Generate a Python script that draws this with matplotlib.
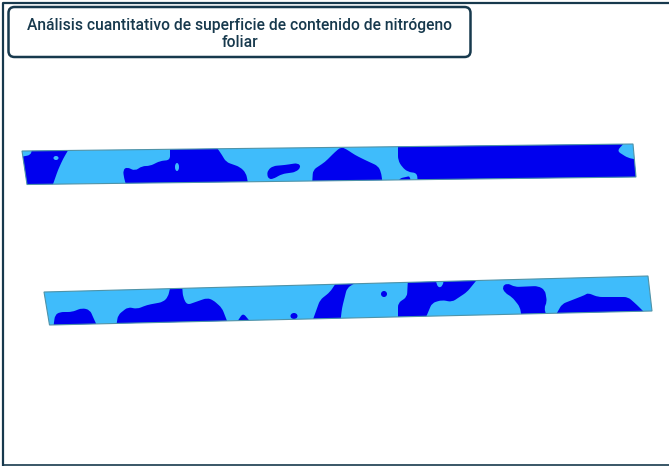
import matplotlib
matplotlib.use("Agg")
import matplotlib.pyplot as plt
from matplotlib.patches import Polygon, Ellipse, FancyBboxPatch, PathPatch
from matplotlib.path import Path
import numpy as np

title = "Análisis cuantitativo de superficie de contenido de nitrógeno\nfoliar"

# strip outlines in pixels
strip1 = [(22, 151), (633, 144), (636, 177), (27, 184.5)]
strip2 = [(44, 292), (648, 276), (652, 311), (49.5, 325)]

# low nitrogen zones, upper strip
s1_a = [(32, 148), (70, 147), (63, 159), (58, 170), (51, 190), (20, 190), (20, 157), (31, 155)]
s1_b = [(170, 146), (215, 145), (222, 155), (226, 162), (240, 167), (246, 173), (249, 188),
        (127, 188), (124, 178), (123, 170), (127, 167), (135, 171), (142, 166), (150, 166),
        (160, 161), (170, 160)]
s1_c = [(267, 175), (268, 170), (273, 166), (285, 165), (298, 163), (301, 167), (296, 172),
        (282, 174), (273, 179), (269, 179)]
s1_d = [(312, 186), (313, 170), (325, 162), (335, 152), (341, 147), (346, 149), (355, 155),
        (365, 160), (378, 166), (381, 172), (383, 186)]
s1_e = [(398, 142), (626, 141), (617, 151), (628, 158), (640, 160), (642, 184), (418, 186),
        (417, 173), (408, 172), (402, 167), (398, 160)]
s1_f = [(397, 185), (399, 178.5), (406, 177), (410, 176), (411, 185)]
s1_holes = [(177, 167, 2, 4), (56, 158, 2.5, 2)]

# low nitrogen zones, lower strip
s2_a = [(53, 330), (55, 315), (60, 312), (72, 312), (82, 308), (90, 310), (93, 317), (99, 330)]
s2_b = [(116, 328), (118, 315), (128, 307), (137, 309), (147, 305), (163, 302), (168, 297),
        (171, 284), (182, 284), (183, 297), (187, 305), (207, 298), (213, 300), (222, 308),
        (229, 326)]
s2_c = [(235, 325), (243, 313), (253, 325)]
s2_e = [(311, 325), (320, 300), (330, 292), (338, 280), (360, 280), (347, 288), (342, 308), (340, 325)]
s2_g = [(398, 324), (398, 303), (407, 297), (408, 278), (435, 278), (438, 288), (443, 286),
        (444, 276), (480, 276), (467, 292), (452, 302), (442, 300), (432, 303), (424, 322)]
s2_h = [(502, 287), (507, 283), (515, 287), (538, 286), (545, 290), (547, 302), (544, 308),
        (548, 320), (522, 320), (520, 307), (512, 297), (505, 293)]
s2_i = [(553, 320), (562, 304), (585, 295), (588, 293), (598, 297), (628, 297), (637, 305),
        (650, 318)]
s2_dots = [(294, 316, 3.5, 3), (384, 294, 3, 3)]

light = "#3fbcfb"
dark = "#0000ee"
navy = "#17394d"


def rounded(pts, r=4.0):
    # closed path with the corners taken off, the blobs are not angular
    pts = np.array(pts, dtype=float)
    n = len(pts)
    verts, codes = [], []
    for i in range(n):
        p0, p1, p2 = pts[i - 1], pts[i], pts[(i + 1) % n]
        a = p1 + (p0 - p1) * min(r / np.linalg.norm(p0 - p1), 0.5)
        b = p1 + (p2 - p1) * min(r / np.linalg.norm(p2 - p1), 0.5)
        verts.append(a)
        codes.append(Path.MOVETO if i == 0 else Path.LINETO)
        verts += [p1, b]
        codes += [Path.CURVE3, Path.CURVE3]
    verts.append(verts[0])
    codes.append(Path.CLOSEPOLY)
    return Path(verts, codes)


fig = plt.figure(figsize=(6.69, 4.66), dpi=100)
ax = fig.add_axes([0, 0, 1, 1])
ax.set_xlim(0, 669)
ax.set_ylim(466, 0)
ax.axis("off")

# frame round the slide
ax.plot([3, 3, 669], [466, 2.5, 2.5], color=navy, lw=1.6)
ax.plot([3, 669], [465, 465], color=navy, lw=1.2)

for outline, zones, dots in [
    (strip1, [s1_a, s1_b, s1_c, s1_d, s1_e, s1_f], []),
    (strip2, [s2_a, s2_b, s2_c, s2_e, s2_g, s2_h, s2_i], s2_dots),
]:
    base = Polygon(outline, closed=True, fc=light, ec="none", zorder=2)
    ax.add_patch(base)
    for z in zones:
        p = PathPatch(rounded(z), fc=dark, ec="none", zorder=3)
        ax.add_patch(p)
        p.set_clip_path(base)
    for x, y, w, h in dots:
        ax.add_patch(Ellipse((x, y), 2 * w, 2 * h, fc=dark, ec="none", zorder=3))
    ax.add_patch(Polygon(outline, closed=True, fc="none", ec="#4f93a8", lw=0.8, zorder=4))

for x, y, w, h in s1_holes:
    ax.add_patch(Ellipse((x, y), 2 * w, 2 * h, fc=light, ec="none", zorder=4))

box = FancyBboxPatch((8.5, 7), 462, 50, boxstyle="round,pad=0,rounding_size=6", fc="white", ec=navy, lw=1.8, zorder=5)
ax.add_patch(box)
ax.text(239.5, 34, title, ha="center", va="center", fontsize=11.25, family="Roboto", fontweight="medium",
        color=navy, linespacing=1.2, zorder=6)

fig.savefig("out.png", dpi=100)
